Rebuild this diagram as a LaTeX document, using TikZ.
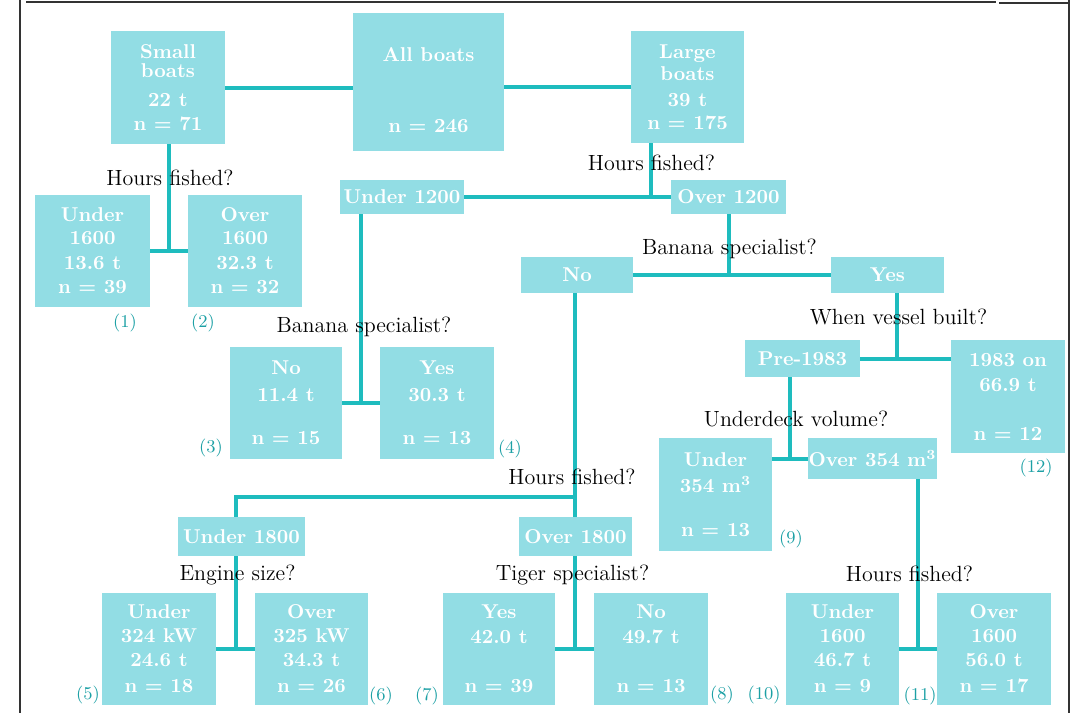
\documentclass[tikz,border=0pt]{standalone}
\usetikzlibrary{
    positioning,
    calc        % For junction points between sibling boxes
}
\definecolor{boxfill}{RGB}{146,221,228}
\definecolor{linkteal}{RGB}{30,188,190}
\definecolor{leafno}{RGB}{28,160,165}

\begin{document}
\begin{tikzpicture}[
    x=0.5pt, y=-0.5pt,
    box/.style={rectangle, fill=boxfill, inner sep=0pt, align=center, text=white, font=\fontsize{10}{12}\selectfont\bfseries},
    tallbox/.style={box, minimum height=56pt},
    flatbox/.style={box, minimum height=18pt},
    link/.style={draw=linkteal, line width=2pt},
    question/.style={font=\fontsize{11}{13}\selectfont, text=black, inner sep=0pt},
    leaf/.style={font=\fontsize{9}{11}\selectfont, text=leafno, inner sep=0pt},
    frame/.style={draw=black!80, line width=1pt}
]
    \useasboundingbox (0,0) rectangle (1074,713);

    % Frame
    \draw[frame] (20,0) -- (20,713);
    \draw[frame] (26,1.5) -- (996,1.5);
    \draw[frame] (999,2.5) -- (1069,2.5);
    \draw[frame] (1069,0) -- (1069,713);

    % Root and first split
    \node[box, minimum width=75.5pt, minimum height=69pt] (all) at (428.5,82) {\rule{0pt}{15pt}All boats\\[23.5pt]n = 246};
    \node[tallbox, minimum width=57pt, minimum height=56.5pt] (small) at (168,87.5) {Small\\[-2.5pt]boats\\[2.5pt]22 t\\n = 71};
    \node[tallbox, minimum width=56.5pt] (large) at (687.5,87) {Large\\[-1pt]boats\\[1pt]39 t\\[-0.5pt]n = 175};

    % Small boats: hours fished
    \node[tallbox, minimum width=57.5pt] (u1600a) at (92.5,251) {Under\\[-0.5pt]1600\\[0.5pt]13.6 t\\n = 39};
    \node[tallbox, minimum width=57pt] (o1600a) at (245,251) {Over\\[-0.5pt]1600\\[0.5pt]32.3 t\\n = 32};

    % Large boats: hours fished
    \node[box, minimum width=62pt, minimum height=17pt] (u1200) at (402,197) {Under 1200};
    \node[box, minimum width=57.5pt, minimum height=17pt] (o1200) at (728.5,197) {Over 1200};

    % Under 1200: banana specialist
    \node[tallbox, minimum width=56pt] (no11) at (286,403) {No\\[1.5pt]11.4 t\\[9.5pt]n = 15};
    \node[tallbox, minimum width=57pt] (yes30) at (437,403) {Yes\\[1.5pt]30.3 t\\[9.5pt]n = 13};

    % Over 1200: banana specialist
    \node[flatbox, minimum width=56pt] (bno) at (577,275) {No};
    \node[flatbox, minimum width=56.5pt] (byes) at (887.5,275) {Yes};

    % Banana specialists: when vessel built
    \node[box, minimum width=57.5pt, minimum height=18.5pt] (pre83) at (802.5,358.5) {Pre-1983};
    \node[tallbox, minimum width=57pt, minimum height=56.5pt] (on83) at (1008,396.5) {1983 on\\[0.5pt]66.9 t\\[12.5pt]n = 12};

    % Pre-1983: underdeck volume
    \node[tallbox, minimum width=56.5pt, minimum height=56.5pt] (u354) at (715.5,494.5) {Under\\[1pt]354 m\textsuperscript{3}\\[10pt]n = 13};
    \node[box, minimum width=64.5pt, minimum height=20.5pt] (o354) at (872.5,458.5) {Over 354 m\textsuperscript{3}};

    % Non-specialists: hours fished
    \node[box, minimum width=63.5pt, minimum height=19.5pt] (u1800) at (241.5,536.5) {Under 1800};
    \node[box, minimum width=56.5pt, minimum height=19.5pt] (o1800) at (575.5,536.5) {Over 1800};

    % Bottom row
    \node[tallbox, minimum width=57pt] (u324) at (159,649) {Under\\324 kW\\24.6 t\\[1pt]n = 18};
    \node[tallbox, minimum width=56.5pt] (o325) at (311.5,649) {Over\\325 kW\\34.3 t\\[1pt]n = 26};
    \node[tallbox, minimum width=56pt] (yes42) at (499,649) {Yes\\[0.5pt]42.0 t\\[12.5pt]n = 39};
    \node[tallbox, minimum width=57pt] (no49) at (651,649) {No\\[0.5pt]49.7 t\\[12.5pt]n = 13};
    \node[tallbox, minimum width=56.5pt] (u1600b) at (842.5,649) {Under\\1600\\46.7 t\\[1pt]n = 9};
    \node[tallbox, minimum width=57pt] (o1600b) at (994,649) {Over\\1600\\56.0 t\\[1pt]n = 17};

    % Junctions between sibling boxes
    \coordinate (j1) at ($(u1600a.east)!0.5!(o1600a.west)$);
    \coordinate (j3) at ($(no11.east)!0.5!(yes30.west)$);
    \coordinate (j9) at ($(u354.east |- o354.west)!0.5!(o354.west)$);
    \coordinate (j5) at ($(u324.east)!0.5!(o325.west)$);
    \coordinate (j7) at ($(yes42.east)!0.5!(no49.west)$);
    \coordinate (j10) at ($(u1600b.east)!0.5!(o1600b.west)$);

    % Connectors
    \draw[link] (small.east) -- (small.east -| all.west);
    \draw[link] (large.west -| all.east) -- (large.west);
    \draw[link] (j1 |- small.south) -- (j1);
    \draw[link] (u1600a.east) -- (o1600a.west);
    \draw[link] ([xshift=-18.25pt]large.south) -- ([xshift=-18.25pt]large.south |- o1200.west);
    \draw[link] (u1200.east) -- (o1200.west);
    \draw[link] (j3 |- u1200.south) -- (j3);
    \draw[link] (no11.east) -- (yes30.west);
    \draw[link] (o1200.south) -- (o1200.south |- bno.east);
    \draw[link] (bno.east) -- (byes.west);
    \draw[link] ([xshift=4.75pt]byes.south) -- ([xshift=4.75pt]byes.south |- pre83.east);
    \draw[link] (pre83.east) -- (pre83.east -| on83.west);
    \draw[link] (j9 |- pre83.south) -- (j9);
    \draw[link] (u354.east |- o354.west) -- (o354.west);
    \draw[link] (bno.south -| j7) -- (o1800.north -| j7);
    \draw[link] ([yshift=10pt]o1800.north -| j7) -| (u1800.north -| j5);
    \draw[link] (u1800.south -| j5) -- (j5);
    \draw[link] (u324.east) -- (o325.west);
    \draw[link] (o1800.south -| j7) -- (j7);
    \draw[link] (yes42.east) -- (no49.west);
    \draw[link] (o354.south -| j10) -- (j10);
    \draw[link] (u1600b.east) -- (o1600b.west);

    % Questions
    \node[question] (hrs1) at (170,178) {Hours fished?};
    \node[question] (hrs2) at (651.5,163) {Hours fished?};
    \node[question] (ban1) at (364,327) {Banana specialist?};
    \node[question] (ban2) at (729.5,249) {Banana specialist?};
    \node[question] (built) at (898.5,317) {When vessel built?};
    \node[question] (deck) at (796,419) {Underdeck volume?};
    \node[question] (hrs3) at (572,477) {Hours fished?};
    \node[question] (engine) at (237.5,575) {Engine size?};
    \node[question] (tiger) at (572.5,575) {Tiger specialist?};
    \node[question] (hrs4) at (909.5,574) {Hours fished?};

    % Leaf numbers
    \node[leaf] (l1) at (125,323) {(1)};
    \node[leaf] (l2) at (203,323) {(2)};
    \node[leaf] (l3) at (211,448) {(3)};
    \node[leaf] (l4) at (510,449) {(4)};
    \node[leaf] (l5) at (88,695) {(5)};
    \node[leaf] (l6) at (381,696) {(6)};
    \node[leaf] (l7) at (427,696) {(7)};
    \node[leaf] (l8) at (722,695) {(8)};
    \node[leaf] (l9) at (791,539) {(9)};
    \node[leaf] (l10) at (764,695) {(10)};
    \node[leaf] (l11) at (920,696) {(11)};
    \node[leaf] (l12) at (1036,468) {(12)};
\end{tikzpicture}
\end{document}
